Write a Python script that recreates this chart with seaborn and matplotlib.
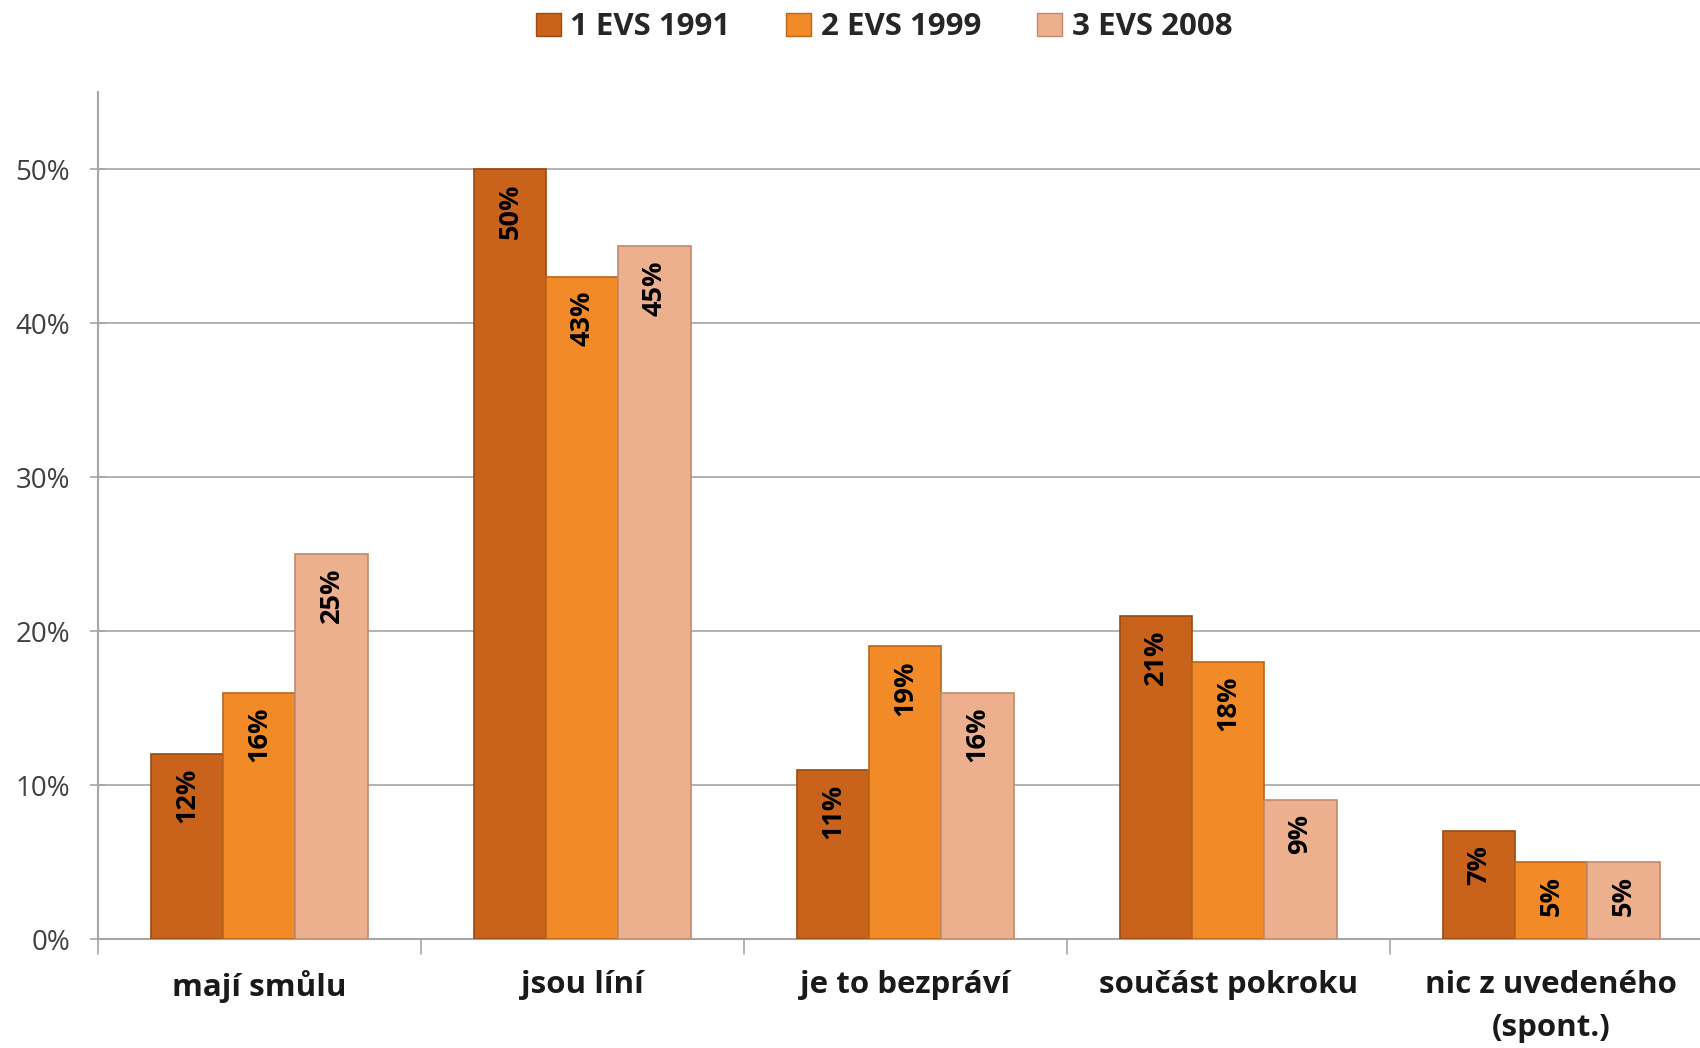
import pandas as pd
import numpy as np
import matplotlib
matplotlib.use("Agg")
import matplotlib.pyplot as plt
import seaborn as sns
from matplotlib.ticker import PercentFormatter

categories = ["mají smůlu", "jsou líní", "je to bezpráví", "součást pokroku",
              "nic z uvedeného\n(spont.)"]
waves = ["1 EVS 1991", "2 EVS 1999", "3 EVS 2008"]
evs_1991 = [12, 50, 11, 21, 7]
evs_1999 = [16, 43, 19, 18, 5]
evs_2008 = [25, 45, 16, 9, 5]
colors = ["#C9631C", "#F28B27", "#EDB08F"]
edges = ["#9A4A12", "#B9661A", "#C08A70"]

rows = []
for w, vals in zip(waves, [evs_1991, evs_1999, evs_2008]):
    for c, v in zip(categories, vals):
        rows.append({"kat": c, "vlna": w, "hodnota": v})
df = pd.DataFrame(rows)

sns.set_style("white")
plt.rcParams["font.family"] = ["Open Sans", "DejaVu Sans"]

fig = plt.figure(figsize=(17, 10.48), dpi=100)
ax = fig.add_axes([0.0576, 0.104, 0.9424, 0.808])

sns.barplot(data=df, x="kat", y="hodnota", hue="vlna", palette=colors,
            width=0.67, ax=ax, saturation=1, legend=True)

for cont, ec in zip(ax.containers, edges):
    for bar in cont:
        bar.set_edgecolor(ec)
        bar.set_linewidth(1.2)
        bar.set_zorder(3)
        h = bar.get_height()
        ax.text(bar.get_x() + bar.get_width() / 2, h - 0.9, f"{h:.0f}%",
                rotation=90, ha="center", va="top", fontsize=19.5,
                fontweight="bold", color="black", zorder=4)

ax.set_ylim(0, 55)
ax.set_xlim(-0.5, 4.46)
ax.set_yticks(np.arange(0, 51, 10))
ax.yaxis.set_major_formatter(PercentFormatter(decimals=0))
ax.grid(axis="y", color="#A6A6A6", lw=1.2, zorder=0)
ax.set_axisbelow(True)
ax.set_xlabel("")
ax.set_ylabel("")

for s in ["top", "right"]:
    ax.spines[s].set_visible(False)
for s in ["left", "bottom"]:
    ax.spines[s].set_color("#A6A6A6")
    ax.spines[s].set_linewidth(1.5)

ax.tick_params(axis="y", direction="inout", length=12, width=1.2, color="#A6A6A6",
               labelsize=20, labelcolor="#404040", pad=14, left=True)
ax.set_xticks(range(5))
ax.set_xticklabels(categories, fontsize=22.5, fontweight="bold", color="#1A1A1A",
                   linespacing=1.6)
ax.tick_params(axis="x", length=0, pad=22)
for xb in np.arange(-0.5, 4.6, 1):
    ax.plot([xb, xb], [0, -1.0], color="#A6A6A6", lw=1.2, clip_on=False)

handles, labels = ax.get_legend_handles_labels()
ax.legend_.remove()
for h, ec in zip(handles, edges):
    h.set_edgecolor(ec)
fig.legend(handles, labels, loc="upper center", bbox_to_anchor=(0.52, 1.015),
           ncol=3, frameon=False, handlelength=0.8, handleheight=0.8,
           handletextpad=0.3, columnspacing=1.8, prop={"weight": "bold", "size": 22.5})

fig.savefig("out.png", dpi=100)
